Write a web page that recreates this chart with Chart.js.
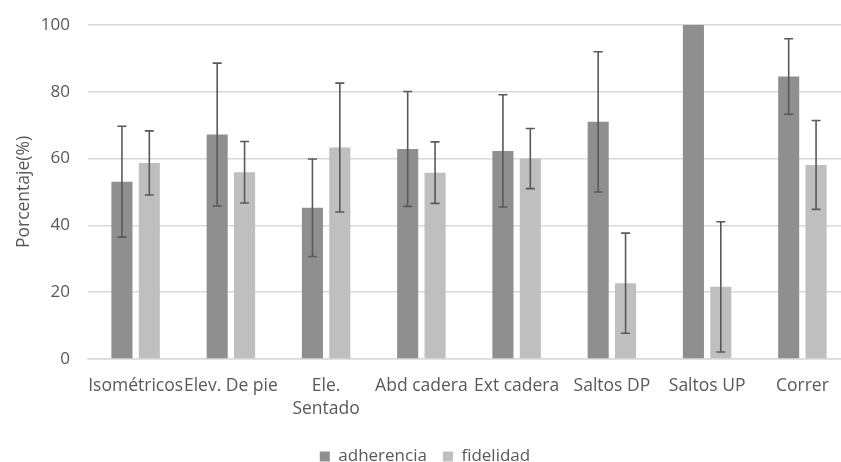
<!DOCTYPE html>
<html>
<head>
<meta charset="utf-8">
<script src="https://cdn.jsdelivr.net/npm/chart.js@4.4.1/dist/chart.umd.min.js"></script>
<style>
  html, body { margin: 0; padding: 0; background: #fff; overflow: hidden; }
  #wrap { position: absolute; left: 0; top: 0; width: 868px; height: 475px; }
</style>
</head>
<body>
<div id="wrap"><canvas id="chart"></canvas></div>
<script>
// categories and values
var categories = ['Isométricos', 'Elev. De pie', ['Ele.', 'Sentado'], 'Abd cadera', 'Ext cadera', 'Saltos DP', 'Saltos UP', 'Correr'];
var adherencia = [53.1, 67.2, 45.3, 62.9, 62.3, 71.0, 100, 84.6];
var adherenciaErr = [16.6, 21.4, 14.6, 17.2, 16.8, 21.0, 0, 11.3];
var fidelidad = [58.7, 55.9, 63.3, 55.8, 60.0, 22.7, 21.6, 58.1];
var fidelidadErr = [9.6, 9.2, 19.3, 9.2, 9.0, 15.0, 19.5, 13.3];
var yTicks = [0, 20, 40, 60, 80, 100];

var textColor = '#595959';
var fontFamily = "'Open Sans', sans-serif";

// draws the error bars on top of each bar
var errorBars = {
    id: 'errorBars',
    afterDatasetsDraw: function (chart) {
        var ctx = chart.ctx;
        var yScale = chart.scales.y;
        ctx.save();
        ctx.strokeStyle = '#595959';
        ctx.lineWidth = 1.6;
        chart.data.datasets.forEach(function (ds, i) {
            var meta = chart.getDatasetMeta(i);
            meta.data.forEach(function (bar, j) {
                var err = ds.errors[j];
                if (!err) return;
                var top = yScale.getPixelForValue(ds.data[j] + err);
                var bottom = yScale.getPixelForValue(ds.data[j] - err);
                var cap = 4.5;
                ctx.beginPath();
                ctx.moveTo(bar.x, top);
                ctx.lineTo(bar.x, bottom);
                ctx.moveTo(bar.x - cap, top);
                ctx.lineTo(bar.x + cap, top);
                ctx.moveTo(bar.x - cap, bottom);
                ctx.lineTo(bar.x + cap, bottom);
                ctx.stroke();
            });
        });
        ctx.restore();
    }
};

var ctx = document.getElementById('chart').getContext('2d');
var chart = new Chart(ctx, {
    type: 'bar',
    data: {
        labels: categories,
        datasets: [{
            label: 'adherencia',
            data: adherencia,
            errors: adherenciaErr,
            backgroundColor: '#8f8f8f',
            categoryPercentage: 0.575,
            barPercentage: 0.77
        }, {
            label: 'fidelidad',
            data: fidelidad,
            errors: fidelidadErr,
            backgroundColor: '#bfbfbf',
            categoryPercentage: 0.575,
            barPercentage: 0.77
        }]
    },
    options: {
        responsive: true,
        maintainAspectRatio: false,
        animation: false,
        layout: { padding: { top: 0, right: 18, left: 0, bottom: 0 } },
        plugins: {
            legend: {
                position: 'bottom',
                labels: {
                    color: textColor,
                    font: { family: fontFamily, size: 17 },
                    boxWidth: 10,
                    boxHeight: 10,
                    padding: 16
                }
            },
            tooltip: { enabled: false }
        },
        scales: {
            x: {
                grid: { display: false, drawTicks: false },
                border: { color: '#d9d9d9', width: 1.5 },
                ticks: {
                    color: textColor,
                    font: { family: fontFamily, size: 17.5, lineHeight: 1.3 },
                    maxRotation: 0,
                    autoSkip: false,
                    padding: 16
                },
                afterFit: function (scale) {
                    scale.height -= 4.5;
                }
            },
            y: {
                min: 0,
                max: 100,
                afterBuildTicks: function (scale) {
                    scale.ticks = yTicks.map(function (v) { return { value: v }; });
                },
                afterFit: function (scale) {
                    scale.width = 88;
                    scale.paddingTop = 25;
                },
                grid: { color: '#d9d9d9', lineWidth: 1.5, drawTicks: false },
                border: { display: false },
                ticks: {
                    color: textColor,
                    font: { family: fontFamily, size: 17 },
                    padding: 18
                },
                title: {
                    display: true,
                    text: 'Porcentaje(%)',
                    color: textColor,
                    font: { family: fontFamily, size: 17.5 },
                    padding: { top: 14, bottom: 4 }
                }
            }
        }
    },
    plugins: [errorBars]
});
</script>
</body>
</html>
